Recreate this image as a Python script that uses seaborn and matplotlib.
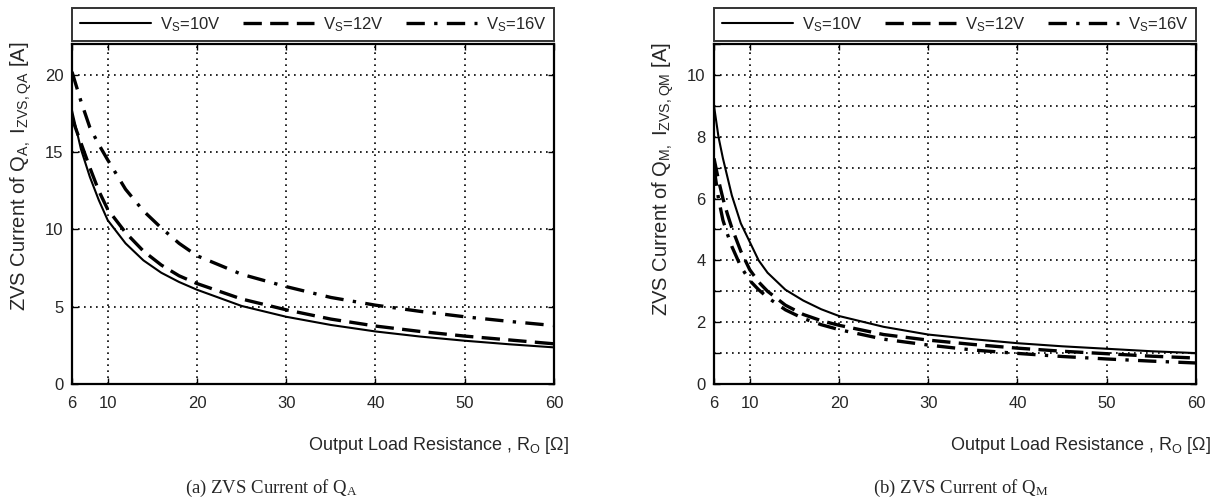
import numpy as np
import pandas as pd
import seaborn as sns
import matplotlib.pyplot as plt
from matplotlib.ticker import MultipleLocator, FixedLocator

# ---------------- data ----------------
r_o_a = [6, 7, 8, 9, 10, 12, 14, 16, 18, 20, 25, 30, 35, 40, 45, 50, 55, 60]
qa_10v = [17.7, 15.2, 13.4, 11.9, 10.6, 9.1, 8.0, 7.2, 6.6, 6.1, 5.05, 4.35, 3.82, 3.4, 3.07, 2.8, 2.57, 2.37]
qa_12v = [17.2, 15.6, 14.0, 12.5, 11.3, 9.8, 8.6, 7.7, 7.0, 6.5, 5.5, 4.8, 4.2, 3.75, 3.4, 3.1, 2.85, 2.6]
qa_16v = [20.2, 18.3, 16.6, 15.5, 14.5, 12.6, 11.2, 10.1, 9.1, 8.3, 7.1, 6.3, 5.6, 5.1, 4.7, 4.35, 4.05, 3.78]

r_o_m = [6, 6.5, 7, 7.5, 8, 9, 10, 11, 12, 14, 16, 18, 20, 25, 30, 35, 40, 45, 50, 55, 60]
qm_10v = [9.0, 8.0, 7.3, 6.7, 6.1, 5.2, 4.6, 4.0, 3.6, 3.05, 2.7, 2.42, 2.2, 1.85, 1.6, 1.45, 1.32, 1.22, 1.14, 1.06, 1.0]
qm_12v = [7.3, 6.6, 6.0, 5.5, 5.05, 4.3, 3.7, 3.3, 3.0, 2.55, 2.25, 2.05, 1.9, 1.6, 1.42, 1.28, 1.16, 1.06, 0.98, 0.9, 0.84]
qm_16v = [7.0, 6.0, 5.3, 4.85, 4.45, 3.8, 3.35, 3.05, 2.8, 2.4, 2.12, 1.92, 1.76, 1.45, 1.26, 1.1, 0.99, 0.89, 0.81, 0.74, 0.68]

series_names = ['V$_\\mathregular{S}$=10V', 'V$_\\mathregular{S}$=12V', 'V$_\\mathregular{S}$=16V']
x_ticks = [6, 10, 20, 30, 40, 50, 60]

sns.set_style('ticks')
plt.rcParams['font.family'] = ['Liberation Sans', 'DejaVu Sans']
plt.rcParams['mathtext.default'] = 'regular'

line_styles = [
    dict(linestyle='-', linewidth=1.5),
    dict(linestyle=(0, (5.5, 2.5)), linewidth=2.4),
    dict(linestyle=(0, (5.5, 2.8, 1.0, 2.8)), linewidth=2.4),
]

fig = plt.figure(figsize=(12.17, 5.04), dpi=100)
ax_a = fig.add_axes([72 / 1217, 1 - 384 / 504, 482 / 1217, 340 / 504])
ax_b = fig.add_axes([714 / 1217, 1 - 384 / 504, 482 / 1217, 340 / 504])


def draw_panel(ax, xs, ys_list, ylim, ymajor, ylabel):
    for ys, name, st in zip(ys_list, series_names, line_styles):
        df = pd.DataFrame({'R': xs, 'I': ys})
        sns.lineplot(data=df, x='R', y='I', ax=ax, color='black', label=name,
                     dashes=False, **st)
    ax.set_xlim(6, 60)
    ax.set_ylim(*ylim)
    ax.xaxis.set_major_locator(FixedLocator(x_ticks))
    ax.yaxis.set_major_locator(MultipleLocator(ymajor))
    ax.grid(True, which='both', color='black', linestyle=(0, (1, 2.6)), linewidth=1.2)
    ax.tick_params(which='both', direction='in', top=True, right=True,
                   length=4, width=1, labelsize=12, color='black')
    ax.tick_params(axis='x', pad=9)
    ax.tick_params(axis='y', pad=6)
    for sp in ax.spines.values():
        sp.set_linewidth(1.6)
        sp.set_color('black')
    ax.set_xlabel('Output Load Resistance , R$_\\mathregular{O}$ [\u03a9]', fontsize=13, loc='right')
    ax.xaxis.set_label_coords(1.031, -0.15)
    ax.xaxis.label.set_verticalalignment('top')
    ax.set_ylabel(ylabel, fontsize=14.5, loc='top')
    ax.yaxis.set_label_coords(-0.078, 1.006)
    leg = ax.legend(loc='lower left', bbox_to_anchor=(0.0, 1.008, 1.0, 0.105),
                    mode='expand', ncol=3, frameon=True, fancybox=False,
                    edgecolor='black', fontsize=12, handlelength=4.3,
                    borderaxespad=0, borderpad=0.45, handletextpad=0.5)
    leg.get_frame().set_linewidth(1.4)


draw_panel(ax_a, r_o_a, [qa_10v, qa_12v, qa_16v], (0, 22), 5,
           'ZVS Current of Q$_\\mathregular{A,}$ I$_\\mathregular{ZVS,QA}$ [A]')
draw_panel(ax_b, r_o_m, [qm_10v, qm_12v, qm_16v], (0, 11), 2,
           'ZVS Current of Q$_\\mathregular{M,}$ I$_\\mathregular{ZVS,QM}$ [A]')
ax_b.yaxis.set_minor_locator(MultipleLocator(1))

fig.text(271 / 1217, 1 - 488 / 504, '(a) ZVS Current of Q$_\\mathregular{A}$',
         family='Liberation Serif', fontsize=13.5, ha='center', va='center')
fig.text(961 / 1217, 1 - 488 / 504, '(b) ZVS Current of Q$_\\mathregular{M}$',
         family='Liberation Serif', fontsize=13.5, ha='center', va='center')

fig.savefig('out.png', dpi=100)
